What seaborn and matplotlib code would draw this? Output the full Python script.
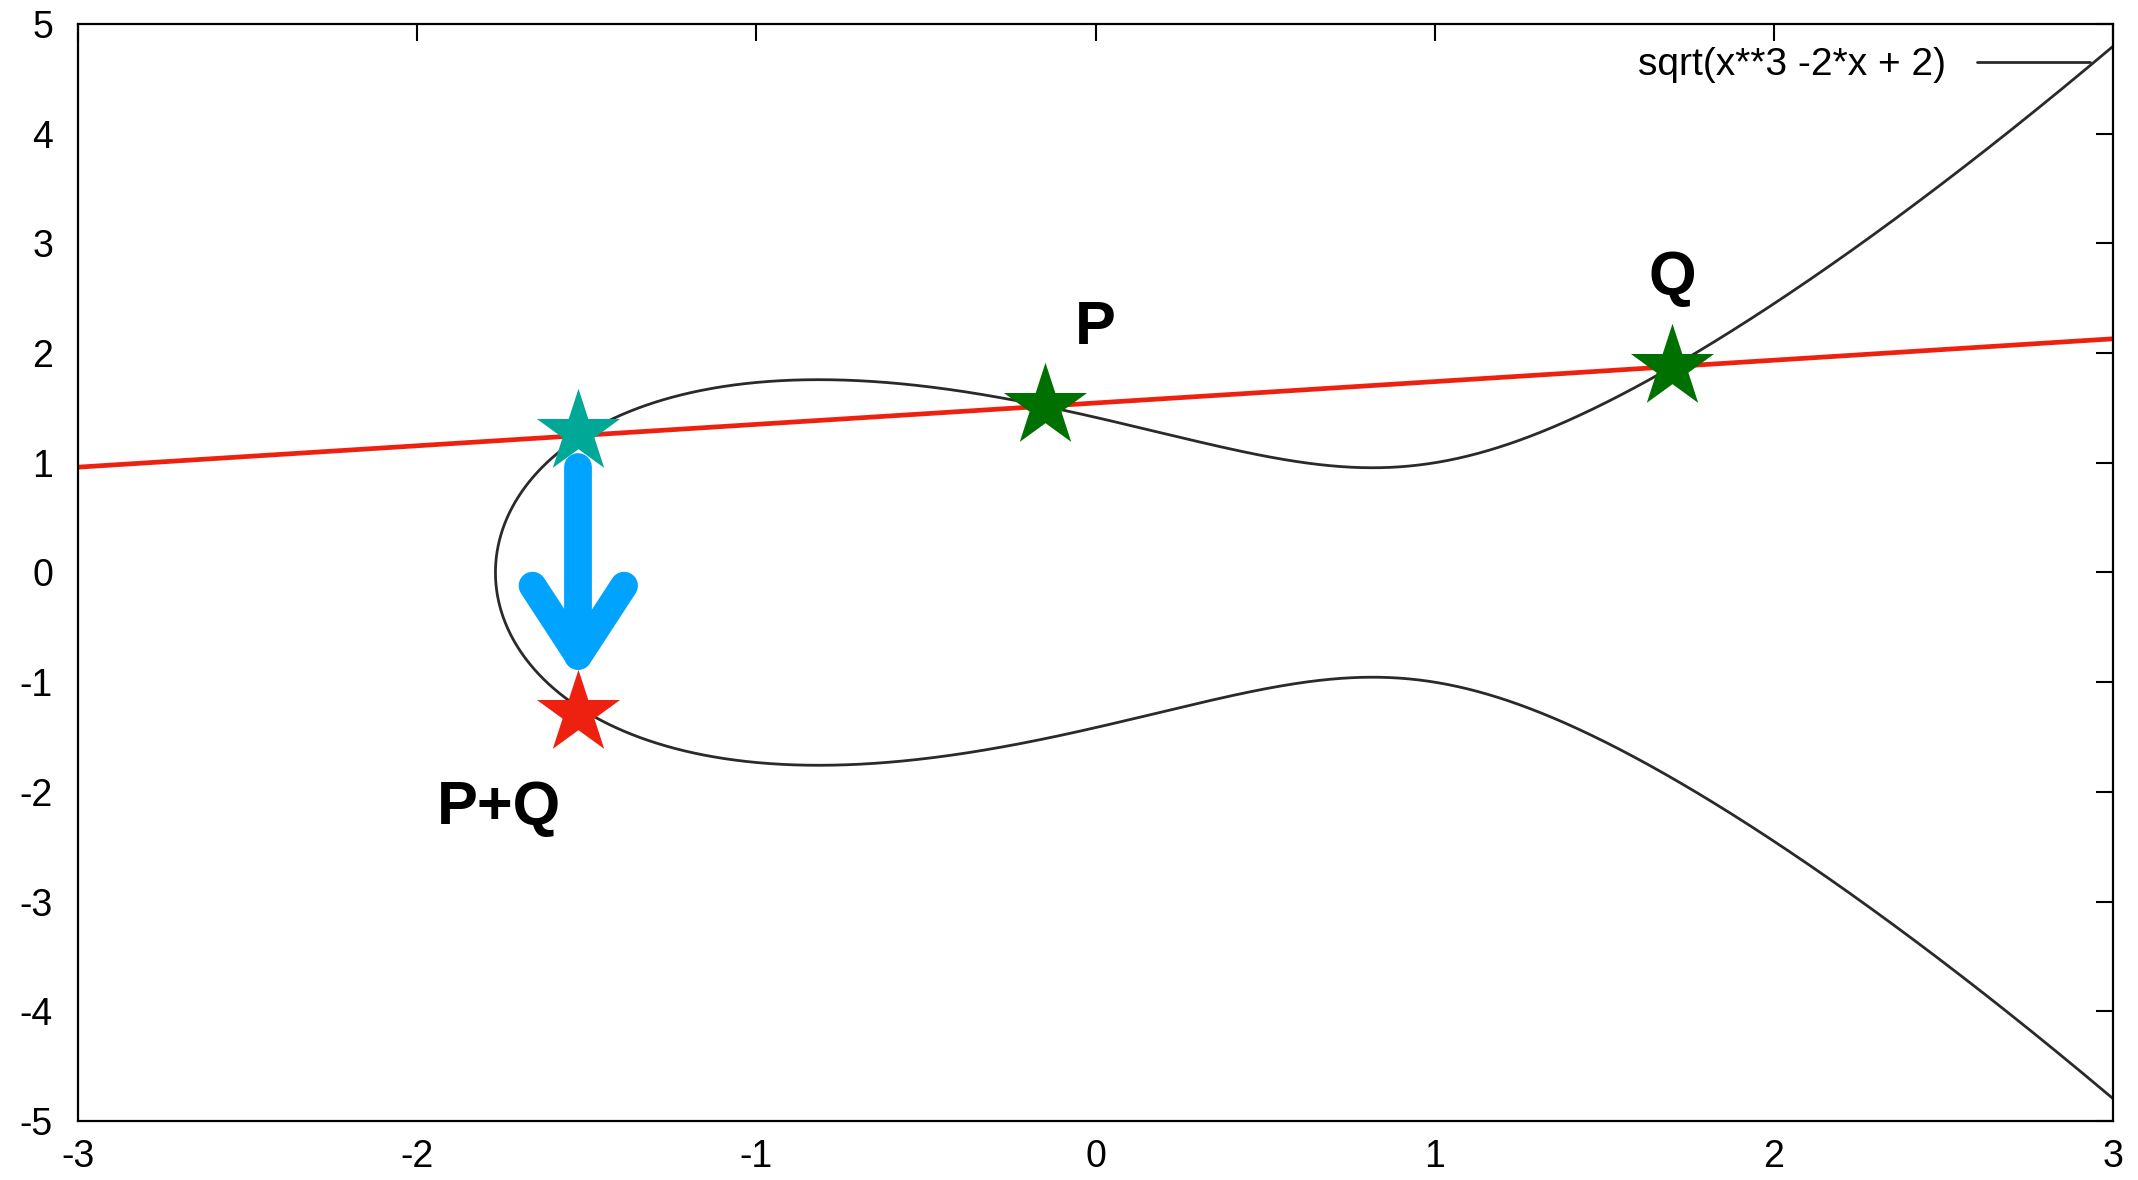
import numpy as np
import pandas as pd
import matplotlib
matplotlib.use("Agg")
import matplotlib.pyplot as plt
import seaborn as sns

# curve y^2 = x^3 + a*x + b, as named in the legend
curve_a = -2.0
curve_b = 2.0
curve_label = "sqrt(x**3 -2*x + 2)"

# secant line through P and Q (end values)
line_x = [-3.0, 3.0]
line_y = [0.96, 2.13]

# stars
star_names = ["P", "Q", "R", "P+Q"]
star_x = [-0.15, 1.70, -1.525, -1.525]
star_y = [1.515, 1.874, 1.28, -1.28]
star_colors = ["#007000", "#007000", "#00a898", "#ee2010"]

# text labels
label_text = ["P", "Q", "P+Q"]
label_x = [0.0, 1.70, -1.76]
label_y = [2.22, 2.68, -2.15]

# blue arrow from R down to P+Q
arrow_x = [-1.525, -1.525]
arrow_y = [0.96, -0.76]
head_x = [-1.66, -1.525, -1.39]
head_y = [-0.12, -0.76, -0.12]

xticks = [-3, -2, -1, 0, 1, 2, 3]
yticks = [-5, -4, -3, -2, -1, 0, 1, 2, 3, 4, 5]

sns.set_theme(style="white")
plt.rcParams["font.family"] = ["Liberation Sans", "DejaVu Sans"]
plt.rcParams["axes.unicode_minus"] = False
plt.rcParams["text.color"] = "black"

# sample the curve: upper branch from x=3 down to the root, then lower branch back
coef = [1, 0, curve_a, curve_b]
roots = np.roots(coef)
root = np.real(roots[np.isreal(roots)]).min()
xs = root + (3 - root) * np.linspace(0, 1, 2000) ** 2
ys = np.sqrt(np.clip(np.polyval(coef, xs), 0, None))
curve = pd.DataFrame({
    "x": np.concatenate([xs[::-1], xs]),
    "y": np.concatenate([ys[::-1], -ys]),
})

fig = plt.figure(figsize=(21.38, 11.8), dpi=100)
ax = fig.add_axes([0.0365, 0.05, 0.9518, 0.9297])

sns.lineplot(data=curve, x="x", y="y", sort=False, estimator=None,
             color="#2a2a2a", lw=2.0, label=curve_label, ax=ax)
sns.lineplot(x=line_x, y=line_y, color="#ee2010", lw=3.4, ax=ax)

ax.plot(arrow_x, arrow_y, color="#00a4ff", lw=20, solid_capstyle="round")
ax.plot(head_x, head_y, color="#00a4ff", lw=20, solid_capstyle="round",
        solid_joinstyle="round")

for sx, sy, c in zip(star_x, star_y, star_colors):
    ax.scatter([sx], [sy], marker="*", s=63 ** 2, color=c, linewidths=0, zorder=5)

for t, tx, ty in zip(label_text, label_x, label_y):
    ax.text(tx, ty, t, fontsize=44, fontweight="bold", ha="center", va="center",
            color="black")

ax.set_xlim(-3, 3)
ax.set_ylim(-5, 5)
ax.set_xticks(xticks)
ax.set_yticks(yticks)
ax.set_xlabel("")
ax.set_ylabel("")
ax.tick_params(direction="in", length=12, width=1.5, top=True, right=True,
               labelsize=27, colors="black")
ax.tick_params(axis="x", pad=13)
ax.tick_params(axis="y", pad=18)
for s in ax.spines.values():
    s.set_color("black")
    s.set_linewidth(1.6)

leg = ax.legend(loc="upper right", frameon=False, fontsize=28, markerfirst=False,
                handlelength=2.9, borderaxespad=0.2)

fig.savefig("out.png", dpi=100)
